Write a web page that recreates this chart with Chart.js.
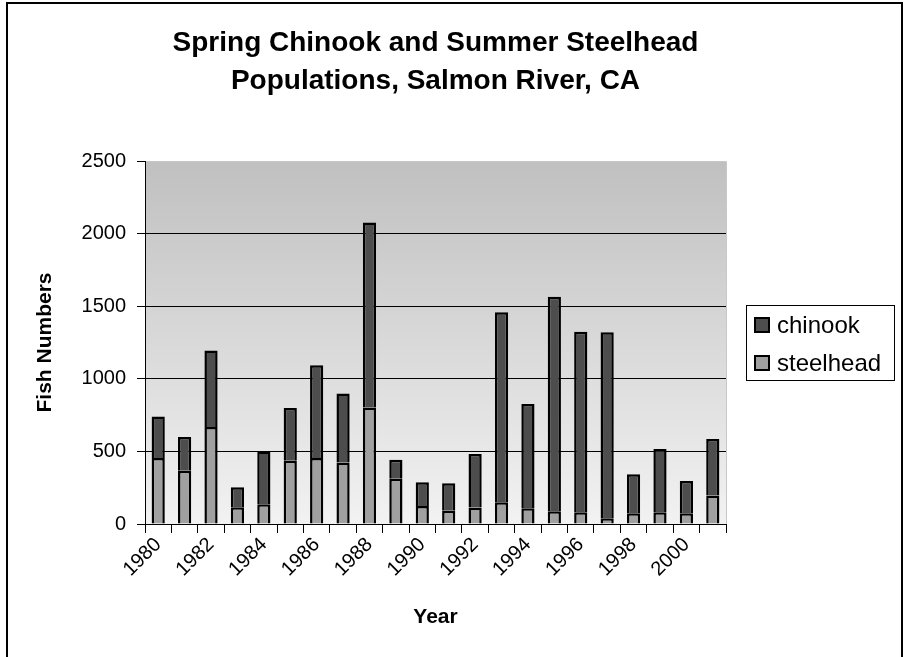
<!DOCTYPE html>
<html>
<head>
<meta charset="utf-8">
<script src="https://cdn.jsdelivr.net/npm/chart.js@4"></script>
<style>
html,body{margin:0;padding:0;background:#fff;}
#c{display:block;}
</style>
</head>
<body>
<canvas id="c" width="904" height="657" style="width:904px;height:657px"></canvas>
<script>
const years = ['1980','1981','1982','1983','1984','1985','1986','1987','1988','1989','1990',
               '1991','1992','1993','1994','1995','1996','1997','1998','1999','2000','2001'];
const steelhead = [455,366,668,115,136,435,454,424,803,311,124,92,113,150,108,88,81,39,74,81,74,196];
const chinook   = [285,233,527,138,364,364,639,474,1274,131,164,189,370,1309,718,1477,1243,1282,269,435,223,389];
const yTicks = [0,500,1000,1500,2000,2500];
const titleLines = ['Spring Chinook and Summer Steelhead','Populations, Salmon River, CA'];

const FONT = '"Liberation Sans", Arial, sans-serif';
const CHINOOK_COLOR = '#4d4d4d';
const STEEL_COLOR = '#a0a0a0';

const framePlugin = {
  id: 'frame',
  beforeDraw(chart) {
    const {ctx, chartArea: a} = chart;
    ctx.save();
    const g = ctx.createLinearGradient(0, a.top, 0, a.bottom);
    g.addColorStop(0, '#c0c0c0');
    g.addColorStop(1, '#f2f2f2');
    ctx.fillStyle = g;
    ctx.fillRect(a.left, a.top, a.right - a.left, a.bottom - a.top);
    ctx.strokeStyle = '#c8c8c8';
    ctx.lineWidth = 1;
    ctx.beginPath();
    ctx.moveTo(a.left, a.top + 0.5);
    ctx.lineTo(a.right + 0.5, a.top + 0.5);
    ctx.lineTo(a.right + 0.5, a.bottom);
    ctx.stroke();
    ctx.restore();
  },
  afterDraw(chart) {
    const ctx = chart.ctx;
    ctx.save();
    // outer chart border
    ctx.strokeStyle = '#000';
    ctx.lineWidth = 2;
    ctx.strokeRect(7, 3, 895, 660);
    // legend box
    const lx = 746.5, ly = 305.5, lw = 148, lh = 75;
    ctx.lineWidth = 1;
    ctx.strokeStyle = '#000';
    ctx.strokeRect(lx, ly, lw, lh);
    const ds = chart.data.datasets.slice().reverse();
    const rows = [325, 363];
    ctx.font = '24px ' + FONT;
    ctx.textBaseline = 'middle';
    ctx.textAlign = 'left';
    ds.forEach((d, i) => {
      const cy = rows[i];
      ctx.fillStyle = d.backgroundColor;
      ctx.fillRect(755, cy - 7, 14, 14);
      ctx.lineWidth = 2;
      ctx.strokeStyle = '#000';
      ctx.strokeRect(755, cy - 7, 14, 14);
      ctx.fillStyle = '#000';
      ctx.fillText(d.label, 777, cy + 1);
    });
    ctx.restore();
  }
};

new Chart(document.getElementById('c'), {
  type: 'bar',
  data: {
    labels: years,
    datasets: [
      {label: 'steelhead', data: steelhead, backgroundColor: STEEL_COLOR, borderColor: '#000',
       borderWidth: 2.5, borderSkipped: 'start', barPercentage: 0.5, categoryPercentage: 1.0},
      {label: 'chinook', data: chinook, backgroundColor: CHINOOK_COLOR, borderColor: '#000',
       borderWidth: 2.5, borderSkipped: 'start', barPercentage: 0.5, categoryPercentage: 1.0}
    ]
  },
  options: {
    responsive: false,
    animation: false,
    devicePixelRatio: 1,
    layout: {padding: {left: 10, right: 178, top: 0, bottom: 0}},
    plugins: {
      legend: {display: false},
      tooltip: {enabled: false},
      title: {
        display: true, text: titleLines, color: '#000', fullSize: false,
        font: {family: FONT, size: 28, weight: 'bold', lineHeight: 1.34},
        padding: {top: 25, bottom: 61}
      }
    },
    scales: {
      x: {
        stacked: true,
        offset: true,
        afterFit(s) { s.height = 133; },
        grid: {display: true, drawOnChartArea: false, offset: true, color: '#000', tickColor: '#000', tickLength: 9},
        border: {display: true, color: '#000', width: 1},
        ticks: {
          autoSkip: false, maxRotation: 45, minRotation: 45, color: '#000', padding: 0,
          font: {family: FONT, size: 20},
          callback: (v, i) => (i % 2 === 0 ? years[i] : '')
        },
        title: {display: true, text: 'Year', color: '#000',
                font: {family: FONT, size: 21, weight: 'bold', lineHeight: 1.2},
                padding: {top: 0, bottom: 27}}
      },
      y: {
        stacked: true,
        min: 0, max: 2500,
        afterFit(s) { s.width = 135; },
        afterBuildTicks(s) { s.ticks = yTicks.map(v => ({value: v})); },
        grid: {
          color: c => (c.tick && c.tick.value === 2500 ? 'rgba(0,0,0,0)' : '#000'),
          tickColor: '#000', tickLength: 8, lineWidth: 1
        },
        border: {display: true, color: '#000', width: 1},
        ticks: {color: '#000', padding: 11, font: {family: FONT, size: 20},
                callback: v => String(v)},
        title: {display: true, text: 'Fish Numbers', color: '#000',
                font: {family: FONT, size: 21, weight: 'bold', lineHeight: 1.2},
                padding: {top: 23, bottom: 0}}
      }
    }
  },
  plugins: [framePlugin]
});
</script>
</body>
</html>
